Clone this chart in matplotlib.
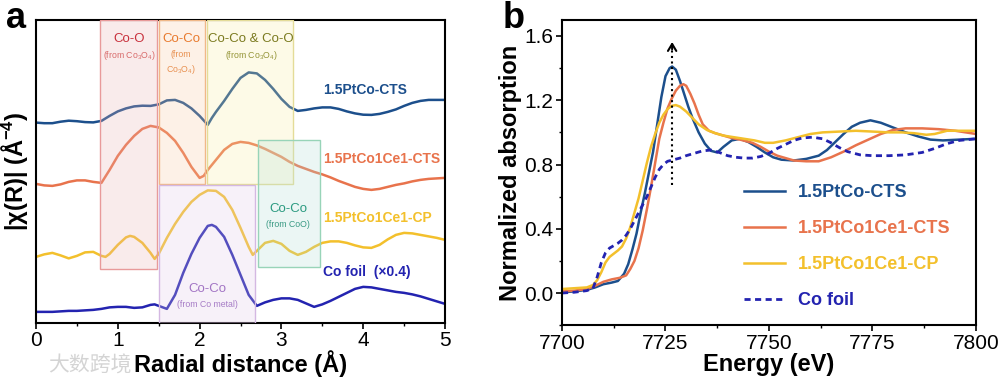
import matplotlib
matplotlib.use('Agg')
import matplotlib.pyplot as plt
from matplotlib.patches import Rectangle
from matplotlib.ticker import MultipleLocator, FormatStrFormatter

plt.rcParams['font.family'] = ['Liberation Sans', 'DejaVu Sans']
plt.rcParams['mathtext.default'] = 'regular'

# ---- panel a: |chi(R)| (arbitrary units, curves stacked) ----
r_cts = [0.0, 0.1, 0.2, 0.3, 0.4, 0.5, 0.6, 0.7, 0.8, 0.9, 1.0, 1.1, 1.2, 1.3, 1.4,
         1.5, 1.6, 1.7, 1.8, 1.9, 2.0, 2.05, 2.1, 2.15, 2.2, 2.3, 2.4, 2.5, 2.6, 2.7,
         2.8, 2.9, 3.0, 3.1, 3.2, 3.3, 3.4, 3.5, 3.6, 3.7, 3.8, 3.9, 4.0, 4.1, 4.2,
         4.3, 4.4, 4.5, 4.6, 4.7, 4.8, 4.9, 5.0]
chi_ptco_cts = [200.3, 199.7, 199.7, 201.2, 202.2, 201.7, 200.8, 200.5, 202, 207, 211.5,
                214.5, 216.5, 217.2, 217, 218.5, 222.5, 223, 220, 214.5, 207, 202.5, 198,
                205, 211, 222, 234, 245, 250.5, 249.5, 243, 234, 224, 216, 212, 213,
                214.5, 215.5, 215.5, 214, 211.5, 209.5, 208.2, 208, 209, 211, 213.5, 217,
                220, 222, 223, 223, 223]
chi_ce_cts = [139, 137.5, 137, 138.5, 141, 142.5, 142.5, 141, 140, 153, 167, 178, 187, 194,
              197, 195.5, 190, 182, 170, 156, 145, 147, 153, 158, 163, 173, 179, 181, 180,
              177.5, 174, 170, 166, 161, 157, 154, 151, 148.5, 145.5, 142, 139, 136, 134,
              133, 134, 136, 138, 139.5, 141.5, 143, 144, 144.5, 145]

r_cp = [0.0, 0.1, 0.2, 0.3, 0.4, 0.5, 0.6, 0.7, 0.8, 0.85, 0.9, 1.0, 1.1, 1.15, 1.2, 1.3,
        1.4, 1.45, 1.5, 1.6, 1.7, 1.8, 1.9, 2.0, 2.1, 2.2, 2.3, 2.4, 2.5, 2.6, 2.65, 2.7,
        2.8, 2.9, 3.0, 3.1, 3.2, 3.3, 3.4, 3.5, 3.6, 3.7, 3.8, 3.9, 4.0, 4.1, 4.2, 4.3,
        4.4, 4.5, 4.6, 4.7, 4.8, 4.9, 5.0]
chi_ce_cp = [66, 68.5, 70, 67.5, 64.5, 67, 70.5, 71, 67, 66, 69, 78, 85.5, 87, 86, 80, 70,
             64, 69, 85, 99, 111, 121, 128, 132.5, 132, 126, 113, 95, 76, 68, 72, 80, 82,
             79, 72, 68, 71, 76, 80, 81.5, 81.5, 80, 77.5, 75.5, 75, 78, 83.5, 88, 90,
             89.5, 88, 86.5, 85, 83]

r_foil = [0.0, 0.1, 0.2, 0.3, 0.4, 0.5, 0.6, 0.7, 0.8, 0.9, 1.0, 1.1, 1.2, 1.3, 1.4, 1.45,
          1.5, 1.6, 1.7, 1.8, 1.9, 2.0, 2.1, 2.15, 2.2, 2.3, 2.4, 2.5, 2.6, 2.7, 2.8, 2.9,
          3.0, 3.1, 3.2, 3.3, 3.4, 3.5, 3.6, 3.7, 3.8, 3.9, 4.0, 4.1, 4.2, 4.3, 4.4, 4.5,
          4.6, 4.7, 4.8, 4.9, 5.0]
chi_foil = [11, 11, 11, 11.5, 12, 12, 12.5, 13, 14, 15.5, 16, 16, 15, 15.5, 18, 18.5, 17,
            14, 28, 50, 69, 85, 97, 98, 96, 86, 68, 48, 28, 17, 20.5, 23, 24.5, 24.5, 23,
            19.5, 16, 18.5, 22, 26, 30, 34, 36, 35.5, 34, 32.5, 31, 30, 28.5, 26.5, 24,
            21.5, 19]

# ---- panel b: normalized XANES ----
e_ptco = [7700, 7703, 7706, 7708, 7710, 7712, 7713.5, 7715, 7716, 7717, 7718, 7719, 7720,
          7721, 7722, 7723, 7724, 7725, 7726, 7726.6, 7727.5, 7728.5, 7729.5, 7730.5,
          7731.5, 7733, 7734.5, 7736, 7737.5, 7739, 7741, 7743, 7745, 7747, 7749, 7751,
          7753, 7756, 7759, 7762, 7764, 7766, 7768, 7770, 7772, 7774.5, 7777, 7780, 7783,
          7786, 7789, 7792, 7796, 7800]
mu_ptco = [0.005, 0.01, 0.02, 0.035, 0.055, 0.065, 0.075, 0.12, 0.18, 0.27, 0.37, 0.5, 0.62,
           0.75, 0.88, 1.05, 1.22, 1.35, 1.40, 1.41, 1.39, 1.32, 1.24, 1.16, 1.09, 1.0, 0.93,
           0.885, 0.875, 0.91, 0.95, 0.96, 0.94, 0.91, 0.875, 0.845, 0.83, 0.825, 0.835,
           0.855, 0.89, 0.94, 0.99, 1.035, 1.06, 1.075, 1.06, 1.03, 1.0, 0.975, 0.955,
           0.95, 0.955, 0.96]

e_ce_cts = [7700, 7703, 7706, 7708, 7710, 7712, 7714, 7715.5, 7716.5, 7717.5, 7718.5, 7719.5,
            7720.5, 7721.5, 7722.5, 7723.5, 7724.5, 7725.5, 7726.5, 7727.5, 7728.5, 7729.3,
            7730, 7731, 7732, 7733, 7734, 7735.5, 7737, 7739, 7741, 7743, 7746, 7748, 7750,
            7752, 7754, 7756, 7759, 7762, 7765, 7768, 7771, 7774, 7777, 7780, 7783, 7787,
            7791, 7795, 7800]
mu_ce_cts = [0.01, 0.015, 0.025, 0.045, 0.07, 0.085, 0.095, 0.11, 0.15, 0.2, 0.28, 0.39, 0.52,
             0.66, 0.81, 0.96, 1.06, 1.15, 1.21, 1.26, 1.29, 1.30, 1.29, 1.24, 1.18, 1.11,
             1.05, 1.01, 0.995, 0.98, 0.965, 0.955, 0.935, 0.91, 0.88, 0.855, 0.84, 0.825,
             0.82, 0.82, 0.845, 0.88, 0.92, 0.955, 0.99, 1.015, 1.025, 1.025, 1.02, 1.01,
             0.99]

e_ce_cp = [7700, 7703, 7706, 7707.5, 7708.5, 7709.5, 7710.5, 7711.5, 7712.5, 7713.5, 7714.5,
           7715.5, 7716.5, 7717.5, 7718.5, 7719.5, 7720.5, 7721.5, 7722.5, 7723.5, 7724.5,
           7725.5, 7726.5, 7727.5, 7728.5, 7730, 7731.5, 7733, 7735, 7737, 7739, 7741.5,
           7744, 7746.5, 7749, 7751, 7754, 7757, 7760, 7763, 7767, 7771, 7775, 7779, 7782,
           7785, 7788, 7790, 7793, 7796, 7800]
mu_ce_cp = [0.025, 0.03, 0.035, 0.05, 0.08, 0.13, 0.19, 0.225, 0.245, 0.265, 0.29, 0.34,
            0.41, 0.5, 0.59, 0.7, 0.81, 0.91, 0.99, 1.06, 1.11, 1.145, 1.165, 1.17, 1.16,
            1.13, 1.09, 1.05, 1.015, 0.995, 0.98, 0.97, 0.96, 0.95, 0.935, 0.935, 0.95,
            0.97, 0.99, 1.0, 1.005, 1.01, 1.005, 1.0, 1.0, 0.995, 0.985, 0.99, 1.01, 1.01,
            1.01]

e_foil = [7700, 7703, 7706, 7707.5, 7708.5, 7709.5, 7710.5, 7711.5, 7712.5, 7713.5, 7714.5,
          7715.5, 7716.5, 7717.5, 7718.5, 7719.5, 7720.5, 7721.5, 7722.5, 7723.5, 7724.5,
          7725.5, 7727, 7728.5, 7730, 7732, 7734, 7736, 7738, 7740, 7742, 7744, 7746, 7748,
          7750, 7752, 7754, 7756, 7758, 7760.5, 7763, 7765, 7767, 7769, 7772, 7775, 7779,
          7783, 7787, 7790, 7793, 7796, 7800]
mu_foil = [0.0, 0.005, 0.015, 0.03, 0.1, 0.19, 0.25, 0.28, 0.295, 0.31, 0.33, 0.36, 0.4,
           0.45, 0.5, 0.55, 0.6, 0.66, 0.72, 0.77, 0.8, 0.82, 0.83, 0.84, 0.855, 0.87, 0.885,
           0.89, 0.875, 0.855, 0.845, 0.84, 0.84, 0.85, 0.87, 0.9, 0.925, 0.95, 0.965, 0.97,
           0.96, 0.935, 0.905, 0.88, 0.86, 0.855, 0.855, 0.86, 0.875, 0.9, 0.93, 0.95, 0.96]

c_cts = '#1c4f8c'
c_ce = '#e8734c'
c_cp = '#f3c02c'
c_foil = '#2323b0'

# shaded regions in panel a: (r0, r1, y0, y1, face, edge)
regions = [
    (0.78, 1.48, 54, 303, '#eab4b4', '#e89a9a'),
    (1.50, 2.07, 139, 303, '#f8cca4', '#f0b888'),
    (2.09, 3.14, 139, 303, '#f8eca4', '#e4dc98'),
    (2.71, 3.47, 56, 183, '#b4e0d8', '#98d4b8'),
    (1.50, 2.68, 0, 138, '#e2cce8', '#d4b8e2'),
]


def draw_panel_a(ax):
    ax.plot(r_cts, chi_ptco_cts, color=c_cts, lw=1.8)
    ax.plot(r_cts, chi_ce_cts, color=c_ce, lw=1.8)
    ax.plot(r_cp, chi_ce_cp, color=c_cp, lw=1.8)
    ax.plot(r_foil, chi_foil, color=c_foil, lw=1.8)
    for r0, r1, y0, y1, fc, ec in regions:
        ax.add_patch(Rectangle((r0, y0), r1 - r0, y1 - y0, facecolor=fc, alpha=0.26,
                               edgecolor='none', zorder=3))
        ax.add_patch(Rectangle((r0, y0), r1 - r0, y1 - y0, facecolor='none',
                               edgecolor=ec, lw=1.0, zorder=3))

    big = dict(ha='center', va='center', fontsize=9.5, zorder=5)
    small = dict(ha='center', va='center', fontsize=6.3, zorder=5)
    ax.text(1.137, 284, 'Co-O', color='#c8303c', **big)
    ax.text(1.137, 267, '(from Co$_3$O$_4$)', color='#d86a6a', **small)
    ax.text(1.773, 284, 'Co-Co', color='#e87a2e', **big)
    ax.text(1.773, 268, '(from', color='#e89050', **small)
    ax.text(1.773, 253, 'Co$_3$O$_4$)', color='#e89050', **small)
    ax.text(2.628, 284, 'Co-Co & Co-O', color='#7a7a1e', **big)
    ax.text(2.628, 267, '(from Co$_3$O$_4$)', color='#949436', **small)
    ax.text(3.08, 114, 'Co-Co', color='#2a9a80', **big)
    ax.text(3.08, 98, '(from CoO)', color='#3a9a84', **small)
    ax.text(2.10, 34, 'Co-Co', color='#a274c4', **big)
    ax.text(2.10, 18, '(from Co metal)', color='#a67cc6', **small)

    lab = dict(ha='left', va='center', fontsize=10, fontweight='bold')
    ax.text(3.51, 233, '1.5PtCo-CTS', color=c_cts, **lab)
    ax.text(3.51, 164, '1.5PtCo1Ce1-CTS', color=c_ce, **lab)
    ax.text(3.51, 105, '1.5PtCo1Ce1-CP', color=c_cp, **lab)
    ax.text(3.51, 51, 'Co foil  (×0.4)', color=c_foil, **lab)

    ax.set_xlim(0, 5)
    ax.set_ylim(0, 303)
    ax.set_yticks([])
    ax.xaxis.set_major_locator(MultipleLocator(1))
    ax.xaxis.set_minor_locator(MultipleLocator(0.5))
    ax.set_xlabel('Radial distance (Å)', fontsize=17, fontweight='bold', labelpad=0)
    ax.set_ylabel('|χ(R)| (Å$^{-4}$)', fontsize=17, fontweight='bold', labelpad=4)


def draw_panel_b(ax):
    ax.plot(e_ptco, mu_ptco, color=c_cts, lw=1.8, label='1.5PtCo-CTS')
    ax.plot(e_ce_cts, mu_ce_cts, color=c_ce, lw=1.8, label='1.5PtCo1Ce1-CTS')
    ax.plot(e_ce_cp, mu_ce_cp, color=c_cp, lw=1.8, label='1.5PtCo1Ce1-CP')
    ax.plot(e_foil, mu_foil, color=c_foil, lw=2.0, ls=(0, (2.2, 1.6)), label='Co foil')

    ax.plot([7726.6, 7726.6], [0.67, 1.56], color='black', lw=1.5, ls=':')
    ax.annotate('', xy=(7726.6, 1.58), xytext=(7726.6, 1.50),
                arrowprops=dict(arrowstyle='->,head_length=0.5,head_width=0.3',
                                color='black', lw=1.5))

    ax.legend(loc='lower left', bbox_to_anchor=(0.40, 0.0), frameon=False,
              handlelength=2.3, handletextpad=0.7, labelspacing=1.05,
              labelcolor='linecolor', prop={'weight': 'bold', 'size': 13})

    ax.set_xlim(7700, 7800)
    ax.set_ylim(-0.2, 1.7)
    ax.xaxis.set_major_locator(MultipleLocator(25))
    ax.xaxis.set_minor_locator(MultipleLocator(12.5))
    ax.yaxis.set_major_locator(MultipleLocator(0.4))
    ax.yaxis.set_minor_locator(MultipleLocator(0.2))
    ax.yaxis.set_major_formatter(FormatStrFormatter('%.1f'))
    ax.set_xlabel('Energy (eV)', fontsize=17, fontweight='bold', labelpad=0)
    ax.set_ylabel('Normalized absorption', fontsize=17, fontweight='bold', labelpad=2)


def style(ax):
    for s in ax.spines.values():
        s.set_linewidth(1.5)
    ax.tick_params(which='major', direction='out', length=4, width=1.2, labelsize=15,
                   pad=2)
    ax.tick_params(which='minor', direction='out', length=2.5, width=1.0)


fig = plt.figure(figsize=(10, 3.83), dpi=100)
ax_a = fig.add_axes([0.036, 0.157, 0.409, 0.791])
ax_b = fig.add_axes([0.562, 0.151, 0.414, 0.797])
draw_panel_a(ax_a)
draw_panel_b(ax_b)
style(ax_a)
style(ax_b)

fig.text(0.006, 0.927, 'a', fontsize=26, fontweight='bold', va='baseline')
fig.text(0.503, 0.927, 'b', fontsize=26, fontweight='bold', va='baseline')
fig.text(0.048, 0.045, '大数跨境', fontsize=15, color='#d4d4d4',
         family=['Noto Sans CJK SC', 'DejaVu Sans'], va='center')

fig.savefig('out.png', dpi=100)
